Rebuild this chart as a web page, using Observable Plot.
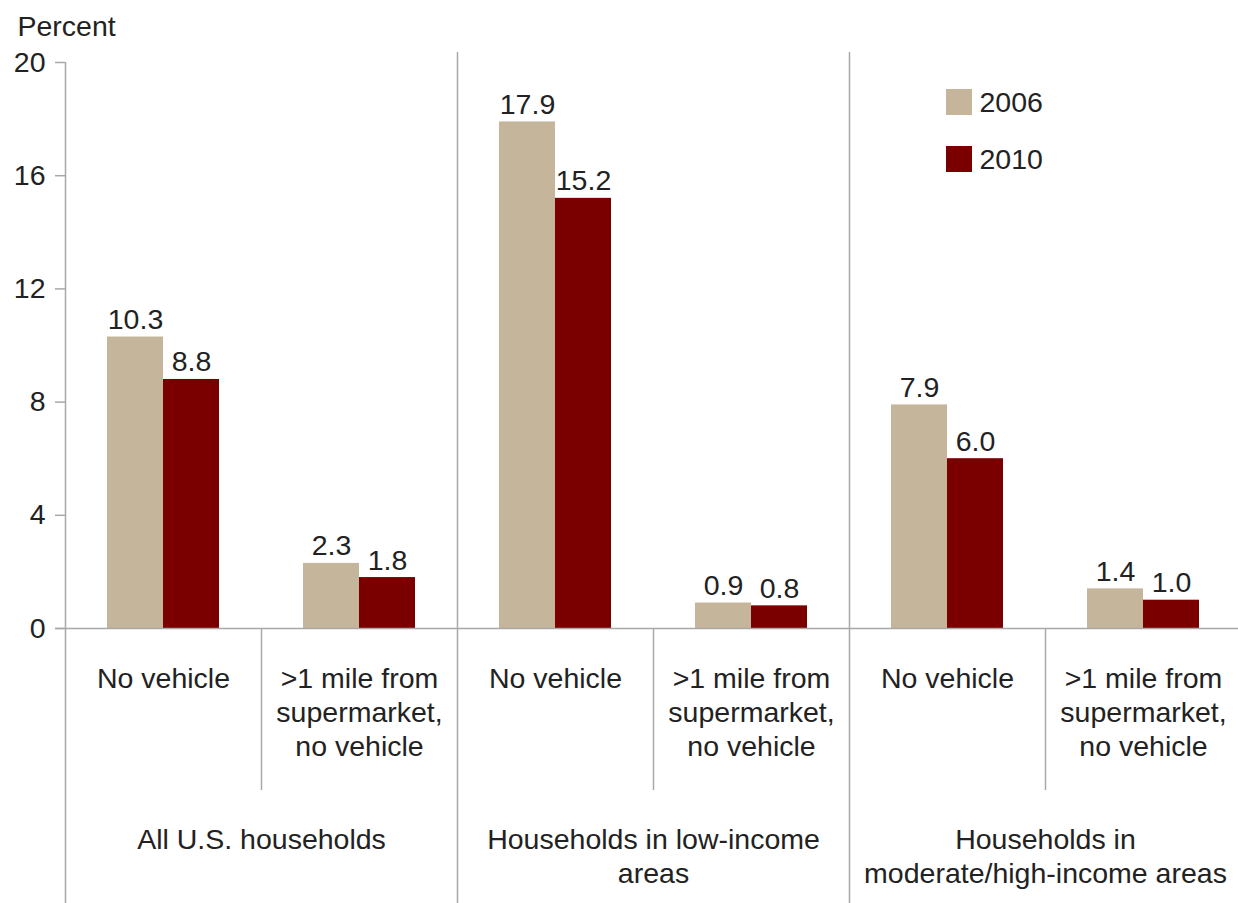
<!DOCTYPE html>
<html><head><meta charset="utf-8">
<script src="https://cdn.jsdelivr.net/npm/d3@7"></script>
<script src="https://cdn.jsdelivr.net/npm/@observablehq/plot@0.6"></script>
<style>body{margin:0;background:#fff;overflow:hidden;} svg{display:block}</style>
</head><body><div id="chart"></div>
<script>
const groups = ["All U.S. households", "Households in low-income areas", "Households in moderate/high-income areas"];
const groupLabels = ["All U.S. households", "Households in low-income\nareas", "Households in\nmoderate/high-income areas"];
const measures = ["No vehicle", ">1 mile from supermarket, no vehicle"];
const measureLabels = ["No vehicle", ">1 mile from\nsupermarket,\nno vehicle"];
const years = ["2006", "2010"];
const values2006 = [10.3, 2.3, 17.9, 0.9, 7.9, 1.4];
const values2010 = [8.8, 1.8, 15.2, 0.8, 6.0, 1.0];
const yTicks = [0, 4, 8, 12, 16, 20];
const colors = ["#c4b59b", "#7a0000"];

const W = 1238, H = 903, mL = 65, mR = -3, mT = 62, mB = 275;
const FONT = 28.5;
const axisGray = "#a8a8a8";
const textColor = "#222";

const cells = [];
groups.forEach((g, gi) => measures.forEach((m, mi) => {
  cells.push({key: g + "|" + m, group: g, gi, mi, label: measureLabels[mi]});
}));
const keys = cells.map(c => c.key);
const seriesValues = [values2006, values2010];
const rows = [];
years.forEach((yr, j) => cells.forEach((c, i) => rows.push({key: c.key, year: yr, j, value: seriesValues[j][i]})));

const bw = (W - mL - mR) / keys.length;
const barW = 56;

const barMarks = years.map((yr, j) => {
  const insetLeft = (bw / 2 - barW) + j * barW;
  const insetRight = bw - insetLeft - barW;
  return Plot.barY(rows.filter(r => r.year === yr), {x: "key", y: "value", fill: "year", insetLeft, insetRight});
});
const labelMarks = years.map((yr, j) => Plot.text(rows.filter(r => r.year === yr), {
  x: "key", y: "value", text: d => d.value.toFixed(1), dx: (j - 0.5) * barW, dy: -8,
  lineAnchor: "bottom", fontSize: FONT, fill: textColor
}));
const legendMarks = years.flatMap((yr, j) => [
  Plot.dot([yr], {frameAnchor: "top-left", dx: 893.5, dy: 39.5 + j * 57, symbol: "square", r: 26 / Math.sqrt(Math.PI), fill: d => d, stroke: null}),
  Plot.text([yr], {frameAnchor: "top-left", dx: 914, dy: 49.5 + j * 57, text: d => d, textAnchor: "start", lineAnchor: "bottom", fontSize: FONT, fill: textColor})
]);

const chart = Plot.plot({
  width: W, height: H,
  marginLeft: mL, marginRight: mR, marginTop: mT, marginBottom: mB,
  x: {domain: keys, padding: 0, axis: null},
  y: {domain: [0, 20], axis: null},
  color: {domain: years, range: colors},
  style: {fontFamily: "'Liberation Sans', Arial, Helvetica, sans-serif", color: textColor, background: "#fff"},
  marks: [
    ...barMarks,
    ...labelMarks,
    Plot.axisY({ticks: yTicks, tickSize: 10, tickPadding: 10, fontSize: FONT, label: null, stroke: axisGray, strokeWidth: 1.5, fill: textColor}),
    Plot.ruleY([0], {insetLeft: -10, stroke: axisGray, strokeWidth: 1.5}),
    // left axis line extended to bottom
    Plot.ruleX([keys[0]], {dx: -bw / 2, insetBottom: -mB, stroke: axisGray, strokeWidth: 1.5}),
    // group dividers
    Plot.ruleX(cells.filter(c => c.gi > 0 && c.mi === 0), {x: "key", dx: -bw / 2, insetTop: -10, insetBottom: -mB, stroke: axisGray, strokeWidth: 1.5}),
    // measure dividers
    Plot.ruleX(cells.filter(c => c.mi === 1), {x: "key", dx: -bw / 2, insetTop: H - mB - mT, insetBottom: -162, stroke: axisGray, strokeWidth: 1.5}),
    // measure labels
    Plot.text(cells, {x: "key", text: "label", frameAnchor: "bottom", lineAnchor: "top", dy: 35, lineHeight: 34 / FONT, fontSize: FONT, fill: textColor}),
    // group labels
    Plot.text(cells.filter(c => c.mi === 0), {x: "key", text: d => groupLabels[d.gi], dx: bw / 2, frameAnchor: "bottom", lineAnchor: "top", dy: 196, lineHeight: 34 / FONT, fontSize: FONT, fill: textColor}),
    Plot.text(["Percent"], {frameAnchor: "top-left", dx: -48, dy: -27, text: d => d, textAnchor: "start", lineAnchor: "bottom", fontSize: FONT, fill: textColor}),
    ...legendMarks
  ]
});
document.getElementById("chart").appendChild(chart);
</script>
</body></html>
